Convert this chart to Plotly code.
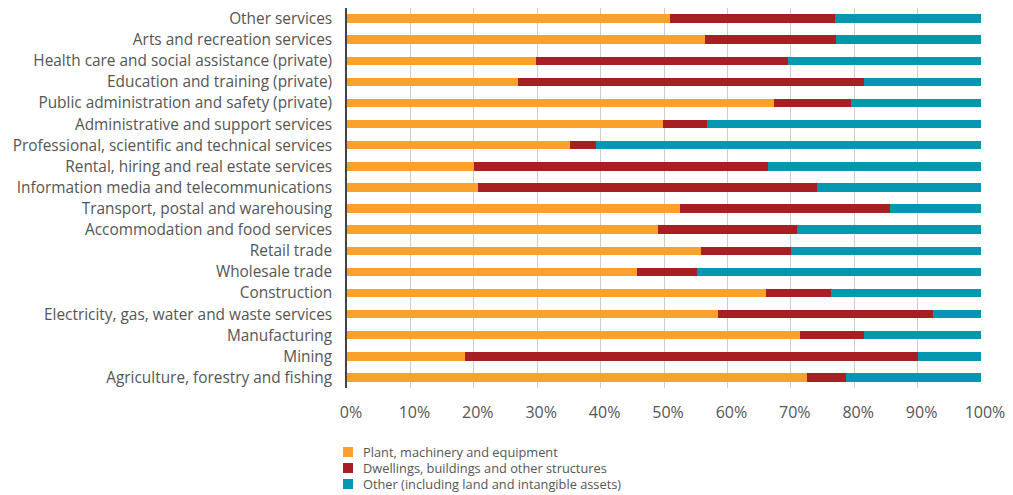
import plotly.graph_objects as go

industries = [
    "Other services",
    "Arts and recreation services",
    "Health care and social assistance (private)",
    "Education and training (private)",
    "Public administration and safety (private)",
    "Administrative and support services",
    "Professional, scientific and technical services",
    "Rental, hiring and real estate services",
    "Information media and telecommunications",
    "Transport, postal and warehousing",
    "Accommodation and food services",
    "Retail trade",
    "Wholesale trade",
    "Construction",
    "Electricity, gas, water and waste services",
    "Manufacturing",
    "Mining",
    "Agriculture, forestry and fishing",
]

plant_machinery = [51.0, 56.5, 29.8, 27.0, 67.4, 49.9, 35.1, 20.1, 20.6,
                   52.6, 49.1, 55.8, 45.8, 66.1, 58.5, 71.4, 18.6, 72.5]
dwellings_buildings = [25.9, 20.6, 39.8, 54.6, 12.1, 6.9, 4.1, 46.3, 53.6,
                       33.1, 21.9, 14.3, 9.4, 10.2, 34.0, 10.1, 71.4, 6.2]
other_assets = [23.1, 22.9, 30.4, 18.4, 20.5, 43.2, 60.8, 33.6, 25.8,
                14.3, 29.0, 29.9, 44.8, 23.7, 7.5, 18.5, 10.0, 21.3]

series = [
    ("Plant, machinery and equipment", plant_machinery, "#F9A12A"),
    ("Dwellings, buildings and other structures", dwellings_buildings, "#A71E23"),
    ("Other (including land and intangible assets)", other_assets, "#0596B0"),
]

W, H = 1013, 495
M_L, M_R, M_T, M_B = 347, 32, 8, 107
PLOT_W = W - M_L - M_R
PLOT_H = H - M_T - M_B


def px_to_paper(px, py):
    """Convert page pixel coordinates to plot-paper coordinates."""
    return (px - M_L) / PLOT_W, (H - M_B - py) / PLOT_H


fig = go.Figure()
for name, vals, color in series:
    fig.add_trace(go.Bar(
        y=industries, x=vals, name=name, orientation="h",
        marker=dict(color=color, line=dict(width=0)),
        showlegend=False,
    ))

# Compact legend below the chart: small square key + label per series
shapes, annotations = [], []
for i, (name, _, color) in enumerate(series):
    cy = 452 + 16 * i
    x0, y0 = px_to_paper(343, cy - 5)
    x1, y1 = px_to_paper(353, cy + 5)
    shapes.append(dict(type="rect", xref="paper", yref="paper",
                       x0=x0, x1=x1, y0=y1, y1=y0,
                       fillcolor=color, line=dict(width=0)))
    tx, ty = px_to_paper(361, cy)
    annotations.append(dict(text=name, xref="paper", yref="paper",
                            x=tx, y=ty, xanchor="left", yanchor="middle",
                            showarrow=False,
                            font=dict(size=12.8, color="#555555")))

font_family = "'Open Sans', sans-serif"
fig.update_layout(
    barmode="stack",
    bargap=0.6,
    width=W, height=H,
    margin=dict(l=M_L, r=M_R, t=M_T, b=M_B, autoexpand=False),
    paper_bgcolor="white", plot_bgcolor="white",
    font=dict(family=font_family, color="#555555"),
    showlegend=False,
    shapes=shapes,
    annotations=annotations,
    xaxis=dict(
        range=[0, 100], dtick=10, ticksuffix="%",
        showgrid=True, gridcolor="#CCCCCC", gridwidth=1,
        zeroline=False, showline=False,
        tickfont=dict(size=16, color="#555555"),
        ticks="", ticklen=0,
        ticklabelstandoff=13,
        ticklabelshift=4,
    ),
    yaxis=dict(
        autorange="reversed",
        showline=True, linecolor="#444444", linewidth=1.5,
        showgrid=False, ticks="",
        tickfont=dict(size=15.4, color="#555555"),
        ticklabelstandoff=10,
    ),
)

fig.write_html("out.html")
